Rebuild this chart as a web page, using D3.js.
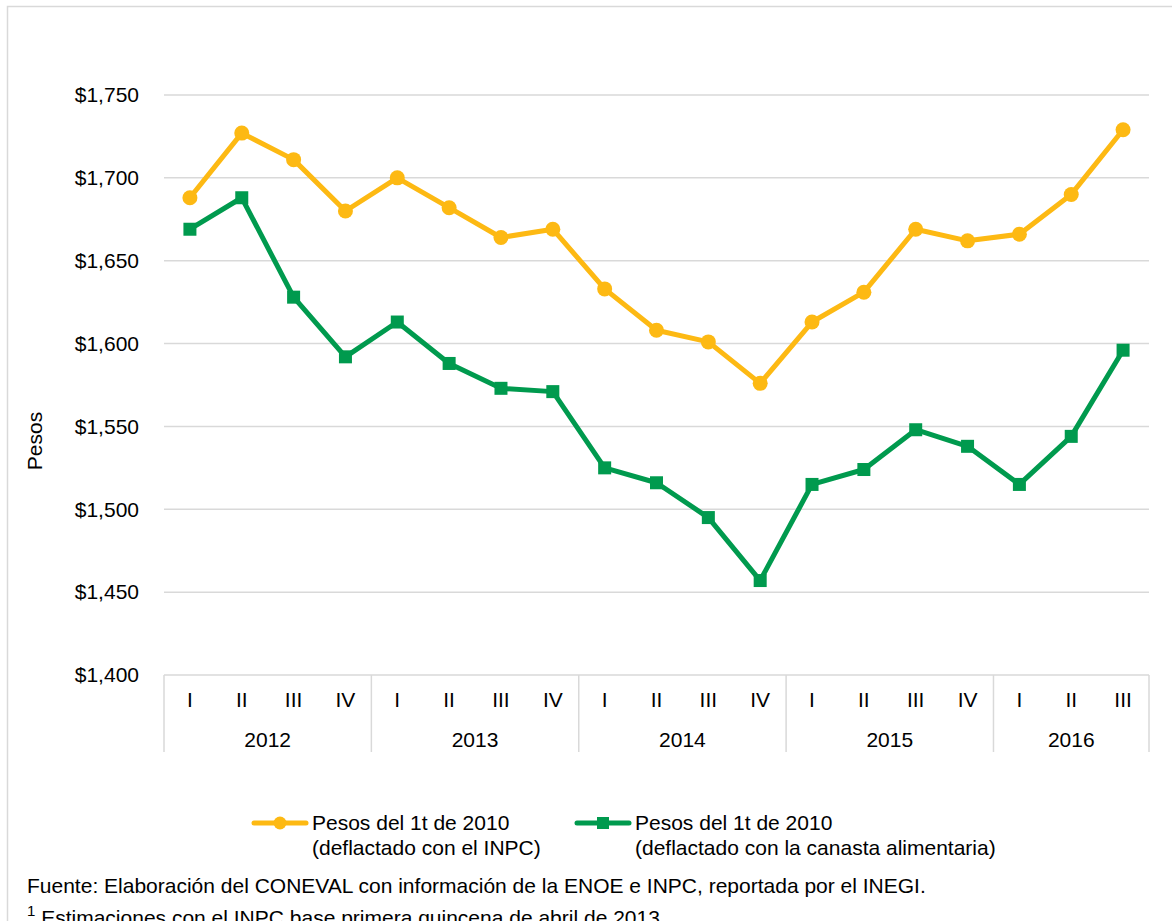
<!DOCTYPE html>
<html>
<head>
<meta charset="utf-8">
<script src="https://cdn.jsdelivr.net/npm/d3@7"></script>
<style>
  body { margin: 0; background: #fff; }
  svg text { font-family: "Liberation Sans", Arial, sans-serif; fill: #000; }
</style>
</head>
<body>
<div id="chart"></div>
<script>
// Data
const years = ['2012', '2013', '2014', '2015', '2016'];
const periods = [
  ['2012', 'I'], ['2012', 'II'], ['2012', 'III'], ['2012', 'IV'],
  ['2013', 'I'], ['2013', 'II'], ['2013', 'III'], ['2013', 'IV'],
  ['2014', 'I'], ['2014', 'II'], ['2014', 'III'], ['2014', 'IV'],
  ['2015', 'I'], ['2015', 'II'], ['2015', 'III'], ['2015', 'IV'],
  ['2016', 'I'], ['2016', 'II'], ['2016', 'III']
];
const inpcValues = [1688, 1727, 1711, 1680, 1700, 1682, 1664, 1669, 1633, 1608, 1601, 1576, 1613, 1631, 1669, 1662, 1666, 1690, 1729];
const canastaValues = [1669, 1688, 1628, 1592, 1613, 1588, 1573, 1571, 1525, 1516, 1495, 1457, 1515, 1524, 1548, 1538, 1515, 1544, 1596];
const yTicks = [1400, 1450, 1500, 1550, 1600, 1650, 1700, 1750];

const width = 1172, height = 921;
const orange = '#FDB913', green = '#009A4E';
const fs = '21px';

const svg = d3.select('#chart').append('svg')
  .attr('width', width)
  .attr('height', height);

// outer frame
svg.append('rect')
  .attr('x', 7.5).attr('y', 6.5)
  .attr('width', 1170).attr('height', 930)
  .attr('fill', 'none').attr('stroke', '#d9d9d9').attr('stroke-width', 1.5);

const plotLeft = 164, plotRight = 1149, plotTop = 95, plotBottom = 675;

const x = d3.scaleBand()
  .domain(d3.range(periods.length))
  .range([plotLeft, plotRight]);

const y = d3.scaleLinear()
  .domain([1400, 1750])
  .range([plotBottom, plotTop]);

// gridlines
svg.append('g').selectAll('line')
  .data(yTicks.slice(1))
  .join('line')
  .attr('x1', plotLeft).attr('x2', plotRight)
  .attr('y1', d => y(d)).attr('y2', d => y(d))
  .attr('stroke', '#d9d9d9').attr('stroke-width', 1.5);

// y axis labels
const fmt = d => '$' + d3.format(',')(d);
svg.append('g').selectAll('text')
  .data(yTicks)
  .join('text')
  .attr('x', 139)
  .attr('y', d => y(d))
  .attr('dy', '0.35em')
  .attr('text-anchor', 'end')
  .style('font-size', fs)
  .text(fmt);

svg.append('text')
  .attr('transform', 'translate(42, 441) rotate(-90)')
  .attr('text-anchor', 'middle')
  .style('font-size', fs)
  .text('Pesos');

// x axis: baseline + year separators
const axisG = svg.append('g');
axisG.append('line')
  .attr('x1', plotLeft).attr('x2', plotRight)
  .attr('y1', plotBottom).attr('y2', plotBottom)
  .attr('stroke', '#d9d9d9').attr('stroke-width', 1.5);

const yearStarts = years.map(yr => periods.findIndex(p => p[0] === yr));
const sepX = yearStarts.map(i => x(i)).concat([plotRight]);
axisG.selectAll('line.sep')
  .data(sepX)
  .join('line')
  .attr('class', 'sep')
  .attr('x1', d => d).attr('x2', d => d)
  .attr('y1', plotBottom).attr('y2', 752)
  .attr('stroke', '#d9d9d9').attr('stroke-width', 1.5);

axisG.selectAll('text.q')
  .data(periods)
  .join('text')
  .attr('class', 'q')
  .attr('x', (d, i) => x(i) + x.bandwidth() / 2)
  .attr('y', 707)
  .attr('text-anchor', 'middle')
  .style('font-size', fs)
  .text(d => d[1]);

axisG.selectAll('text.yr')
  .data(years)
  .join('text')
  .attr('class', 'yr')
  .attr('x', (d, i) => (sepX[i] + sepX[i + 1]) / 2)
  .attr('y', 747)
  .attr('text-anchor', 'middle')
  .style('font-size', fs)
  .text(d => d);

// lines
const line = d3.line()
  .x((d, i) => x(i) + x.bandwidth() / 2)
  .y(d => y(d));

svg.append('path')
  .datum(inpcValues)
  .attr('fill', 'none')
  .attr('stroke', orange)
  .attr('stroke-width', 5)
  .attr('stroke-linejoin', 'round')
  .attr('d', line);

svg.append('g').selectAll('circle')
  .data(inpcValues)
  .join('circle')
  .attr('cx', (d, i) => x(i) + x.bandwidth() / 2)
  .attr('cy', d => y(d))
  .attr('r', 7.5)
  .attr('fill', orange);

svg.append('path')
  .datum(canastaValues)
  .attr('fill', 'none')
  .attr('stroke', green)
  .attr('stroke-width', 5)
  .attr('stroke-linejoin', 'round')
  .attr('d', line);

svg.append('g').selectAll('rect')
  .data(canastaValues)
  .join('rect')
  .attr('x', (d, i) => x(i) + x.bandwidth() / 2 - 6.5)
  .attr('y', d => y(d) - 6.5)
  .attr('width', 13).attr('height', 13)
  .attr('fill', green);

// legend
const legend = svg.append('g');
const legItems = [
  { color: orange, marker: 'circle', x: 254, lines: ['Pesos del 1t de 2010', '(deflactado con el INPC)'] },
  { color: green, marker: 'rect', x: 577, lines: ['Pesos del 1t de 2010', '(deflactado con la canasta alimentaria)'] }
];
legItems.forEach(it => {
  const g = legend.append('g').attr('transform', `translate(${it.x}, 823)`);
  g.append('line').attr('x1', 0).attr('x2', 52).attr('y1', 0).attr('y2', 0)
    .attr('stroke', it.color).attr('stroke-width', 5).attr('stroke-linecap', 'round');
  if (it.marker === 'circle') {
    g.append('circle').attr('cx', 26).attr('cy', 0).attr('r', 6.5).attr('fill', it.color);
  } else {
    g.append('rect').attr('x', 20).attr('y', -6).attr('width', 12).attr('height', 12).attr('fill', it.color);
  }
  g.append('text').attr('x', 58).attr('y', 0).attr('dy', '0.35em')
    .style('font-size', fs).text(it.lines[0]);
  g.append('text').attr('x', 58).attr('y', 25).attr('dy', '0.35em')
    .style('font-size', fs).text(it.lines[1]);
});

// footnotes
svg.append('text')
  .attr('x', 27).attr('y', 893)
  .style('font-size', fs)
  .text('Fuente: Elaboración del CONEVAL con información de la ENOE e INPC, reportada por el INEGI.');

const fn = svg.append('text')
  .attr('x', 27).attr('y', 925)
  .style('font-size', fs);
fn.append('tspan').attr('dy', -9).style('font-size', '15px').text('1');
fn.append('tspan').attr('dy', 9).text(' Estimaciones con el INPC base primera quincena de abril de 2013.');
</script>
</body>
</html>
